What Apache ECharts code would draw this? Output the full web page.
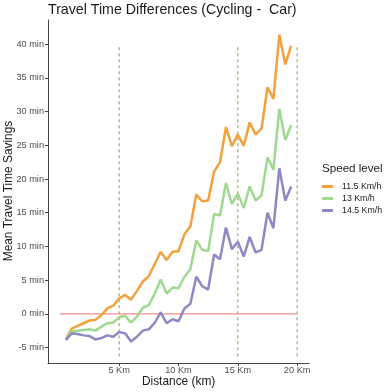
<!DOCTYPE html>
<html><head><meta charset="utf-8">
<script src="https://cdn.jsdelivr.net/npm/echarts@6/dist/echarts.min.js"></script>
<style>html,body{margin:0;padding:0;background:#fff}#c{width:387px;height:392px}</style>
</head><body><div id="c"></div>
<script>
var distances = [0.5,1,1.5,2,2.5,3,3.5,4,4.5,5,5.5,6,6.5,7,7.5,8,8.5,9,9.5,10,10.5,11,11.5,12,12.5,13,13.5,14,14.5,15,15.5,16,16.5,17,17.5,18,18.5,19,19.5];
var speed115 = [-3.8,-2.2,-1.8,-1.4,-1.0,-0.9,-0.2,0.8,1.2,2.3,2.8,2.1,3.4,4.8,5.6,7.4,9.2,8.0,9.2,9.3,11.8,13.0,17.7,16.7,16.8,21.1,22.5,27.7,24.9,26.6,24.9,28.4,26.6,27.5,33.6,31.9,41.4,37.0,39.8];
var speed13 = [-3.8,-2.6,-2.5,-2.4,-2.3,-2.5,-1.9,-1.4,-1.3,-0.5,-0.3,-1.3,-0.4,0.9,1.3,3.0,5.1,3.0,3.9,3.8,5.5,6.6,10.9,9.5,9.3,14.8,14.6,19.4,16.3,17.8,15.7,18.9,16.8,17.6,23.2,21.4,30.4,25.8,28.0];
var speed145 = [-3.9,-2.9,-3.0,-3.2,-3.3,-3.8,-3.6,-3.2,-3.4,-2.7,-2.9,-4.1,-3.4,-2.5,-2.3,-1.3,0.2,-1.4,-0.8,-1.1,0.8,1.5,5.5,4.1,3.6,8.8,8.1,12.8,9.6,10.7,8.5,11.4,9.1,9.5,15.0,12.7,21.6,16.8,18.9];
var seriesNames = ['11.5 Km/h','13 Km/h','14.5 Km/h'];
var xTicks = [5,10,15,20];
var yTicks = [-5,0,5,10,15,20,25,30,35,40];
var zeroLineX = [0,20];
var vLineX = [5,15,20];
var vLineY = [-6.3,40];

function pairs(xs, ys){ return xs.map(function(x,i){return [x, ys[i]];}); }
var font = 'Liberation Sans, Arial, sans-serif';
var colors = ['#F4A03C','#9ED98F','#8F88C4'];
var chart = echarts.init(document.getElementById('c'), null, {renderer:'canvas'});
var series = [];
vLineX.forEach(function(x){
  series.push({type:'line', silent:true, showSymbol:false, data: vLineY.map(function(y){return [x,y];}),
    lineStyle:{color:'#9DAA72', width:1.2, type:[3,3]}, z:1});
});
series.push({type:'line', silent:true, showSymbol:false, data: zeroLineX.map(function(x){return [x,0];}),
  lineStyle:{color:'#F58C8C', width:1.3}, z:2});
[speed115, speed13, speed145].forEach(function(arr,i){
  series.push({name:seriesNames[i], type:'line', showSymbol:false, symbol:'none', data: pairs(distances, arr),
    lineStyle:{color:colors[i], width:2.5}, itemStyle:{color:colors[i]}, z:3});
});
chart.setOption({
  animation:false,
  backgroundColor:'#fff',
  title:{text:'Travel Time Differences (Cycling -  Car)', left:43, top:-2,
    textStyle:{fontFamily:font, fontSize:14.2, fontWeight:'normal', color:'#1a1a1a'}},
  grid:{left:48, right:78, top:20, bottom:29, containLabel:false},
  legend:{data:seriesNames, orient:'vertical', left:322, top:182, padding:0, icon:'rect', itemWidth:11, itemHeight:3, itemGap:3,
    textStyle:{fontFamily:font, fontSize:8.8, color:'#1a1a1a', padding:[0,0,0,4]}},
  xAxis:{type:'value', min:-1, max:21, splitLine:{show:false},
    axisLine:{onZero:false, lineStyle:{color:'#444', width:1}},
    axisTick:{customValues:xTicks, length:3, lineStyle:{color:'#444'}},
    axisLabel:{customValues:xTicks, formatter:function(v){return v+' Km';}, margin:3, fontFamily:font, fontSize:9.2, color:'#4D4D4D'}},
  yAxis:{type:'value', min:-7.3, max:43.6, splitLine:{show:false},
    axisLine:{show:true, onZero:false, lineStyle:{color:'#444', width:1}},
    axisTick:{show:true, customValues:yTicks, length:3, lineStyle:{color:'#444'}},
    axisLabel:{customValues:yTicks, formatter:function(v){return v+' min';}, margin:4, fontFamily:font, fontSize:9.2, color:'#4D4D4D'}},
  graphic:[
    {type:'text', left:322, top:163, style:{text:'Speed level', font:'11.6px '+font, fill:'#1a1a1a'}},
    {type:'text', x:178.6, y:382, style:{text:'Distance (km)', font:'11.9px '+font, fill:'#1a1a1a', align:'center', verticalAlign:'middle'}},
    {type:'text', x:9, y:191, rotation:Math.PI/2, style:{text:'Mean Travel Time Savings', font:'11.9px '+font, fill:'#1a1a1a', align:'center', verticalAlign:'middle'}}
  ],
  series:series
});
</script></body></html>
